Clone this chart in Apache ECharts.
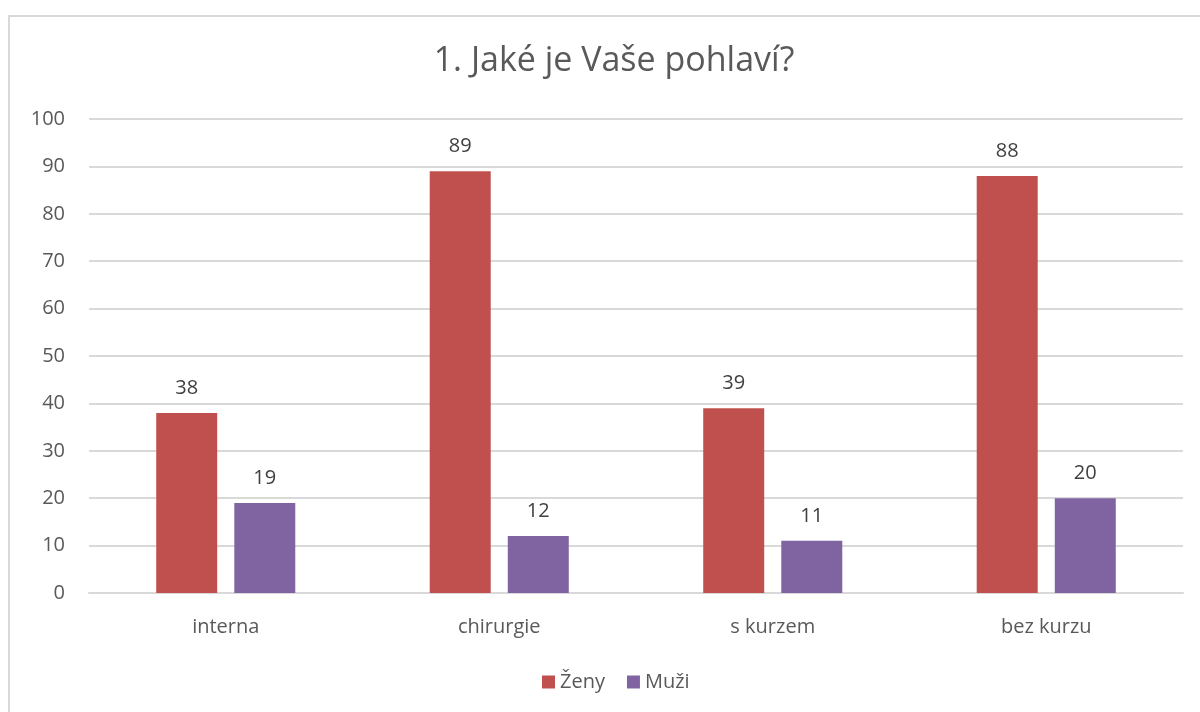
<!DOCTYPE html>
<html><head><meta charset="utf-8">
<script src="https://cdn.jsdelivr.net/npm/echarts@6/dist/echarts.min.js"></script>
<style>html,body{margin:0;padding:0;background:#fff}#c{width:1200px;height:712px}
#frame{position:absolute;left:8px;top:15px;width:1300px;height:800px;border:2px solid #d9d9d9;box-sizing:border-box;pointer-events:none}</style>
</head><body><div id="c"></div><div id="frame"></div>
<script>
const title = '1. Jaké je Vaše pohlaví?';
const categories = ['interna', 'chirurgie', 's kurzem', 'bez kurzu'];
const zeny = [38, 89, 39, 88];
const muzi = [19, 12, 11, 20];
const seriesNames = ['Ženy', 'Muži'];
const FONT = '"Open Sans", "Noto Sans", sans-serif';
const chart = echarts.init(document.getElementById('c'));
chart.setOption({
  animation: false,
  textStyle: {fontFamily: FONT},
  title: {text: title, left: 609, textAlign: 'center', top: 39,
    textStyle: {fontFamily: FONT, fontSize: 34, fontWeight: 'normal', color: '#595959'}},
  legend: {top: 667, left: 537, itemWidth: 13, itemHeight: 13, itemGap: 22, icon: 'rect',
    textStyle: {fontFamily: FONT, fontSize: 20, color: '#595959'}},
  grid: {left: 89, right: 17, top: 119, bottom: 119},
  xAxis: {type: 'category', data: categories,
    axisLine: {show: true, lineStyle: {color: '#d9d9d9', width: 2}}, axisTick: {show: false},
    axisLabel: {fontFamily: FONT, fontSize: 20, color: '#595959', margin: 24}},
  yAxis: {type: 'value', min: 0, max: 100, interval: 10,
    axisLine: {show: false}, axisTick: {show: false},
    splitLine: {lineStyle: {color: '#d9d9d9', width: 2}},
    axisLabel: {fontFamily: FONT, fontSize: 20, color: '#595959', margin: 24}},
  series: [
    {name: seriesNames[0], type: 'bar', data: zeny, barWidth: '22.3%', barGap: '28%',
      itemStyle: {color: '#C0504D'},
      label: {show: true, position: 'top', distance: 15, fontFamily: FONT, fontSize: 20, color: '#404040'}},
    {name: seriesNames[1], type: 'bar', data: muzi, barWidth: '22.3%', barGap: '28%',
      itemStyle: {color: '#8064A2'},
      label: {show: true, position: 'top', distance: 15, fontFamily: FONT, fontSize: 20, color: '#404040'}}
  ]
});
</script></body></html>
